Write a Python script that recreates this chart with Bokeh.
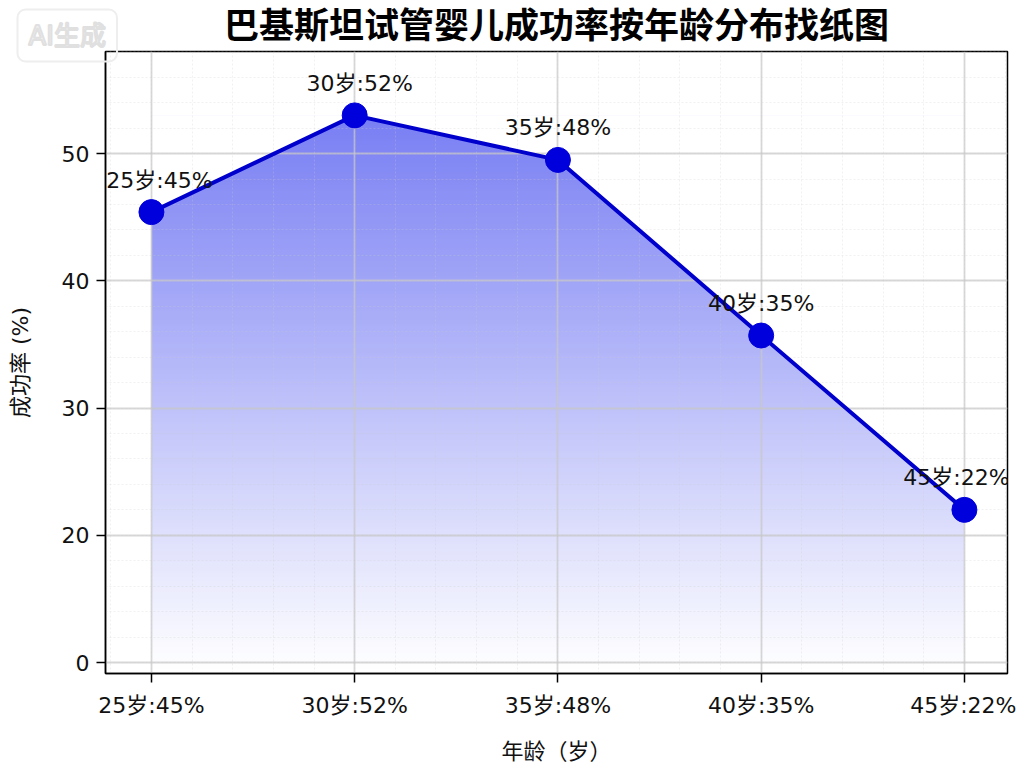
import numpy as np
from bokeh.plotting import figure
from bokeh.models import FixedTicker, Range1d, Title
from bokeh.core.properties import value
from bokeh.embed import file_html
from bokeh.resources import INLINE

# data
ages = [25, 30, 35, 40, 45]
rates = [45.4, 53.0, 49.5, 35.7, 22.0]
point_labels = ["25岁:45%", "30岁:52%", "35岁:48%", "40岁:35%", "45岁:22%"]
y_ticks = [10, 20, 30, 40, 50]
y_tick_labels = ["0", "20", "30", "40", "50"]

FONT = "DejaVu Sans, Noto Sans CJK SC"

p = figure(width=1016, height=766,
           x_range=Range1d(23.87, 46.06), y_range=Range1d(9.14, 58.02),
           output_backend="svg", toolbar_location=None,
           min_border_left=105, min_border_right=9,
           min_border_top=51, min_border_bottom=93,
           outline_line_color="black", outline_line_width=1.5,
           background_fill_color="white")
p.title.visible = False

# main title next to the frame, watermark stacked outside it (titles are not clipped)
p.add_layout(Title(text="巴基斯坦试管婴儿成功率按年龄分布找纸图",
                   align="center", vertical_align="top", standoff=8,
                   text_font=FONT, text_font_size="35px",
                   text_font_style="bold", text_color="black"), "above")
p.add_layout(Title(text="AI生成", align="left", offset=-88, vertical_align="bottom",
                   standoff=-120, text_font=FONT, text_font_size="26px",
                   text_font_style="normal", text_color="#f2f2f2",
                   text_outline_color="#e0e0e0",
                   background_fill_color=None,
                   border_line_color="#eeeeee", border_line_width=2,
                   padding=11, border_radius=8), "above")

# gradient fill under the line: an image clipped by a white mask above the line
ybot = p.y_range.start
ytop = max(rates)
n = 256
alpha = np.linspace(0.0, 0.6, n)
img = np.empty((n, 2), dtype=np.uint32)
view = img.view(dtype=np.uint8).reshape((n, 2, 4))
view[:, :, 0] = 30
view[:, :, 1] = 40
view[:, :, 2] = 235
view[:, :, 3] = (alpha * 255).astype(np.uint8)[:, None]
p.image_rgba(image=[img], x=ages[0], y=ybot, dw=ages[-1] - ages[0], dh=ytop - ybot,
             level="image")
p.patch(x=ages + [ages[-1], ages[0]], y=rates + [ytop, ytop],
        fill_color="white", line_color="white", line_width=1, level="image")

p.line(ages, rates, line_color="#0000cd", line_width=4)
p.scatter(ages, rates, size=25, color="#0000dc")
p.text(ages, rates, text=point_labels, x_offset=[8, 5, 0, 0, -8], y_offset=-32,
       text_align="center", text_baseline="middle",
       text_font_size="22px", text_font=value(FONT), text_color="#111111")

# axes
p.xaxis.ticker = FixedTicker(ticks=ages, minor_ticks=list(range(24, 47)))
p.xaxis.major_label_overrides = {a: l for a, l in zip(ages, point_labels)}
p.yaxis.ticker = FixedTicker(ticks=y_ticks, minor_ticks=list(range(8, 60, 2)))
p.yaxis.major_label_overrides = {t: l for t, l in zip(y_ticks, y_tick_labels)}

for ax in (p.xaxis, p.yaxis):
    ax.axis_line_color = "black"
    ax.axis_line_width = 1.5
    ax.major_tick_line_color = "black"
    ax.major_tick_line_width = 1.5
    ax.major_tick_out = 9
    ax.major_tick_in = 0
    ax.minor_tick_line_color = None
    ax.major_label_text_font = FONT
    ax.major_label_text_font_size = "22px"
    ax.major_label_text_color = "#111111"
    ax.axis_label_text_font = FONT
    ax.axis_label_text_font_size = "22px"
    ax.axis_label_text_font_style = "normal"
    ax.axis_label_text_color = "#111111"

p.xaxis.axis_label = "年龄（岁）"
p.yaxis.axis_label = "成功率 (%)"
p.xaxis.major_label_standoff = 10
p.xaxis.axis_label_standoff = 18
p.yaxis.major_label_standoff = 7
p.yaxis.axis_label_standoff = 26

for g in (p.xgrid, p.ygrid):
    g.grid_line_color = "#c8c8c8"
    g.grid_line_alpha = 0.7
    g.grid_line_width = 1.8
    g.minor_grid_line_color = "#cccccc"
    g.minor_grid_line_alpha = 0.35
    g.minor_grid_line_dash = "2 2"
    g.minor_grid_line_width = 0.8

open("out.html", "w").write(file_html(p, INLINE))
